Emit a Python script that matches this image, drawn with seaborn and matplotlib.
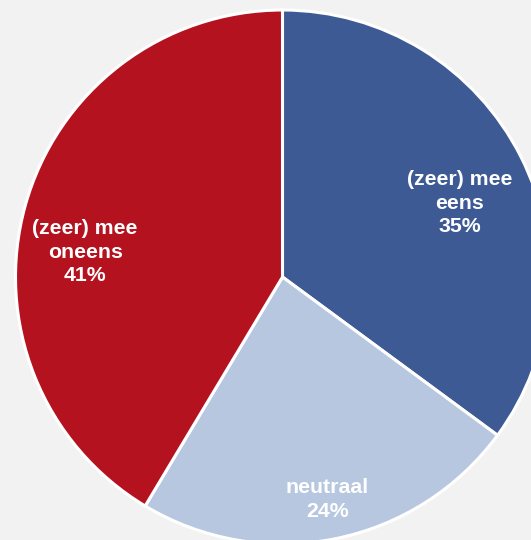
import matplotlib.pyplot as plt
import seaborn as sns
import numpy as np

# data
categories = ['(zeer) mee\neens', 'neutraal', '(zeer) mee\noneens']
shares = [35.1, 23.5, 41.4]
pct_labels = ['35%', '24%', '41%']
colours = ['#3E5A94', '#B8C7E0', '#B5121F']
# label placement (distance from centre, angle shift in degrees)
label_dist = [0.72, 0.85, 0.745]
label_shift = [-4.2, 0, 8.3]

sns.set_style('white')
plt.rcParams['font.family'] = ['Liberation Sans', 'DejaVu Sans']

W, H = 531, 540
cx, cy, r = 282.5, 277, 267

fig = plt.figure(figsize=(W / 100, H / 100), dpi=100, facecolor='#F2F2F2')
ax = fig.add_axes([0, 0, 1, 1])
ax.set_facecolor('#F2F2F2')

wedges, _ = ax.pie(shares, colors=colours, startangle=90, counterclock=False,
                   radius=1, wedgeprops=dict(edgecolor='white', linewidth=2.2))

for w, name, pct, d, s in zip(wedges, categories, pct_labels, label_dist, label_shift):
    ang = np.deg2rad((w.theta1 + w.theta2) / 2 + s)
    ax.text(d * np.cos(ang), d * np.sin(ang), f'{name}\n{pct}',
            ha='center', va='center', color='white', fontsize=15.3,
            fontweight='bold', linespacing=1.3)

ax.set_xlim(-cx / r, (W - cx) / r)
ax.set_ylim(-(H - cy) / r, cy / r)
ax.set_aspect('equal')
ax.axis('off')

fig.savefig('out.png', dpi=100, facecolor='#F2F2F2')
